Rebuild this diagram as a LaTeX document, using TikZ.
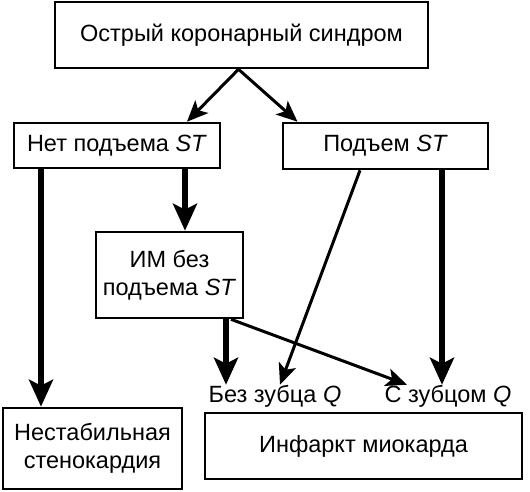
\documentclass[tikz,border=0pt]{standalone}
\usepackage{fontspec}
\setmainfont{Liberation Sans}
\usetikzlibrary{arrows.meta}
\tikzset{box/.style={draw, line width=2.6pt, align=center, inner sep=0pt},
  lbl/.style={inner sep=0pt},
  fat/.style={line width=6pt, -{Stealth[length=27pt,width=24pt,inset=6pt]}},
  lean/.style={line width=3pt, -{Stealth[length=21pt,width=18pt,inset=5pt]}}}

\begin{document}
\begin{tikzpicture}[x=1pt,y=-1pt,font=\fontsize{23.5}{27.5}\selectfont]
\useasboundingbox (0,0) rectangle (530,492);
\node[box, minimum width=373pt, minimum height=66pt] (acs) at (241.5,35) {Острый коронарный синдром};
\node[box, minimum width=206pt, minimum height=45pt] (nost) at (117,145.5) {Нет подъема \textit{ST}};
\node[box, minimum width=205pt, minimum height=46pt] (st) at (385.5,146) {Подъем \textit{ST}};
\node[box, minimum width=147pt, minimum height=86pt] (nstemi) at (169.5,275) {ИМ без\\подъема \textit{ST}};
\node[box, minimum width=179pt, minimum height=81pt] (ua) at (92.5,448.5) {Нестабильная\\стенокардия};
\node[box, minimum width=317pt, minimum height=66pt] (mi) at (363.5,446) {Инфаркт миокарда};
\node[lbl] (noq) at (275,396) {Без зубца \textit{Q}};
\node[lbl] (withq) at (448,396) {С зубцом \textit{Q}};
\draw[lean] ([xshift=-3pt]acs.south) -- ([xshift=70pt]nost.north);
\draw[lean] ([xshift=-3pt]acs.south) -- ([xshift=-88pt]st.north);
\draw[fat] ([xshift=-76pt]nost.south) -- ([xshift=-51.5pt]ua.north);
\draw[fat] ([xshift=68pt]nost.south) -- ([xshift=15.5pt]nstemi.north);
\draw[fat] ([xshift=56.5pt]st.south) -- ([xshift=-6pt]withq.north);
\draw[lean] ([xshift=-25.5pt]st.south) -- ([xshift=5pt]noq.north);
\draw[fat] ([xshift=56.5pt]nstemi.south) -- ([xshift=-49pt]noq.north);
\draw[lean] ([xshift=61.5pt]nstemi.south) -- ([xshift=-41pt]withq.north);
\end{tikzpicture}
\end{document}
